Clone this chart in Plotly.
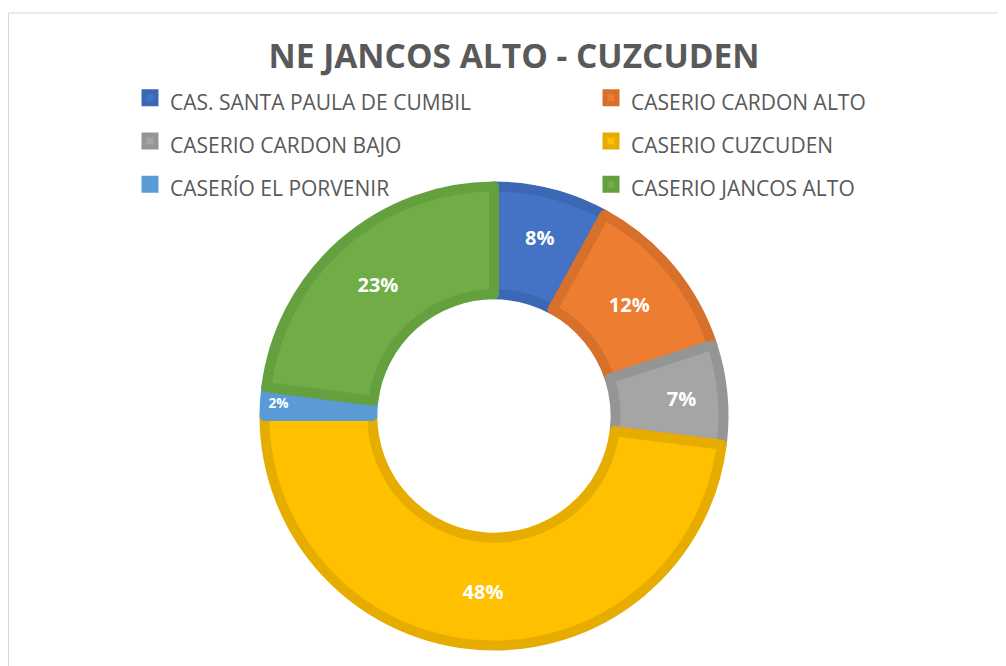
import plotly.graph_objects as go

# datos del gráfico (porcentajes)
caserios = [
    "CAS. SANTA PAULA DE CUMBIL",
    "CASERIO CARDON ALTO",
    "CASERIO CARDON BAJO",
    "CASERIO CUZCUDEN",
    "CASERÍO EL PORVENIR",
    "CASERIO JANCOS ALTO",
]
porcentajes = [8, 12, 7, 48, 2, 23]

colores = ["#4472C4", "#ED7D31", "#A5A5A5", "#FFC000", "#5B9BD5", "#70AD47"]
bordes = ["#3C67B4", "#D6702A", "#959595", "#E6AD00", "#5B9BD5", "#64A03E"]

FUENTE = "Open Sans"
GRIS = "#595959"

# la página tiene 8px de margen en el body -> figura de 998x658
W, H = 998, 658
CX, CY, R = 486, 408, 229.5   # centro y radio del anillo (px de la figura)

# etiquetas con fuente pequeña: la fuente grande del legend solo da el alto de fila
etiquetas = [f"<span style='font-size:21px'>{c}</span>" for c in caserios]

fig = go.Figure(go.Pie(
    labels=etiquetas,
    values=porcentajes,
    hole=0.53,
    sort=False,
    direction="clockwise",
    rotation=0,
    marker=dict(colors=colores, line=dict(color=bordes, width=10)),
    texttemplate="%{percent:.0%}",
    textposition="inside",
    insidetextorientation="horizontal",
    textfont=dict(family=FUENTE, size=20, color="white", weight="bold"),
    domain=dict(x=[(CX - R) / W, (CX + R) / W],
                y=[(H - CY - R) / H, (H - CY + R) / H]),
    hoverinfo="label+percent",
))

fig.update_layout(
    width=W,
    height=H,
    margin=dict(l=0, r=0, t=0, b=0),
    paper_bgcolor="white",
    title=dict(
        text="<b>NE JANCOS ALTO - CUZCUDEN</b>",
        x=506 / W, xanchor="center",
        y=1 - 48.5 / H, yanchor="middle",
        font=dict(family=FUENTE, size=33.5, color=GRIS),
    ),
    legend=dict(
        orientation="h",
        x=0, xanchor="left",
        y=1 - 63 / H, yanchor="top",
        indentation=122,
        entrywidth=294,
        traceorder="normal",
        font=dict(family=FUENTE, size=31, color=GRIS),
        bgcolor="rgba(0,0,0,0)",
    ),
    shapes=[dict(
        type="rect", xref="paper", yref="paper",
        x0=0.5 / W, x1=1.05, y0=-0.05, y1=1 - 5 / H,
        line=dict(color="#D9D9D9", width=1), fillcolor="rgba(0,0,0,0)",
    )],
)

fig.write_html("out.html")
